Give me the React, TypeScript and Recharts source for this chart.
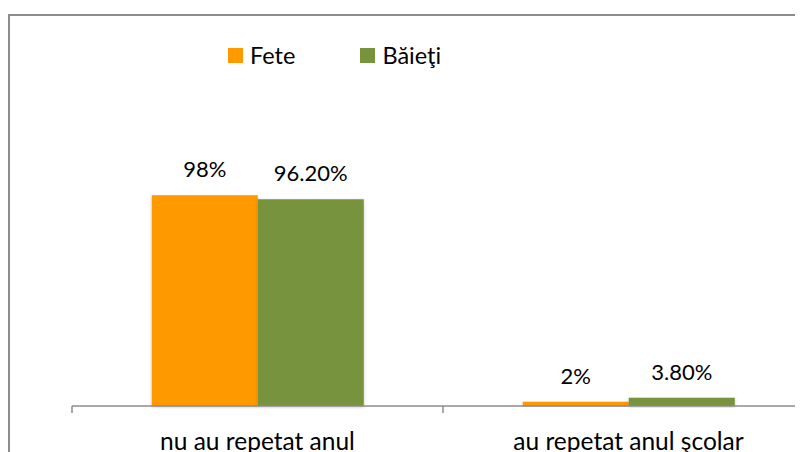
import { BarChart, Bar, XAxis, YAxis, Legend, LabelList } from 'recharts';

const categories = ['nu au repetat anul', 'au repetat anul şcolar'];
const seriesNames = ['Fete', 'Băieţi'];
const fete = [98, 2];
const baieti = [96.2, 3.8];

const data = categories.map((name, i) => ({ name, Fete: fete[i], 'Băieţi': baieti[i] }));

const FONT = "Lato, 'Open Sans', sans-serif";

const fmt = (v: number) => (Number.isInteger(v) ? `${v}%` : `${v.toFixed(2)}%`);

function CategoryTick(props: any) {
  const { x, y, payload } = props;
  const edge = x - (payload.offset || 0);
  return (
    <g>
      <line x1={edge} y1={y - 8} x2={edge} y2={y - 1} stroke="#8c8c8c" strokeWidth={1.5} />
      <text x={x} y={y + 36} textAnchor="middle" fill="#000" fontSize={24.5} fontFamily={FONT}>
        {payload.value}
      </text>
    </g>
  );
}

function LegendBox(props: any) {
  const items = [...(props.payload || [])].sort(
    (a: any, b: any) => seriesNames.indexOf(a.value) - seriesNames.indexOf(b.value),
  );
  return (
    <div style={{ display: 'flex', alignItems: 'center', fontFamily: FONT, fontSize: 23.5, color: '#000' }}>
      {items.map((it: any, i: number) => (
        <div key={it.value} style={{ display: 'flex', alignItems: 'center', marginRight: i === 0 ? 65 : 0 }}>
          <span style={{ width: 15, height: 15, background: it.color, display: 'inline-block', marginRight: 7 }} />
          <span style={{ lineHeight: '15px' }}>{it.value}</span>
        </div>
      ))}
    </div>
  );
}

export default function App() {
  return (
    <div style={{ width: 795, height: 438, overflow: 'hidden', marginTop: 6 }}>
      <div style={{ width: 830, height: 480, border: '2px solid #8c8c8c', boxSizing: 'border-box' }}>
        <BarChart
          width={826}
          height={460}
          data={data}
          margin={{ top: 175, right: 22, bottom: 20, left: 62 }}
          barCategoryGap="21.5%"
          barGap={0}
        >
          <defs>
            <filter id="barShadow" x="-10%" y="-10%" width="120%" height="130%">
              <feDropShadow dx="0" dy="1" stdDeviation="1.5" floodColor="#000" floodOpacity="0.25" />
            </filter>
          </defs>
          <XAxis
            dataKey="name"
            height={50}
            interval={0}
            tickLine={false}
            tickSize={0}
            tickMargin={8}
            axisLine={{ stroke: '#8c8c8c', strokeWidth: 1.5 }}
            tick={<CategoryTick />}
          />
          <YAxis hide domain={[0, 100]} />
          <Legend
            verticalAlign="middle"
            align="center"
            content={<LegendBox />}
            wrapperStyle={{ top: 32, left: 218, width: 'auto' }}
          />
          <Bar dataKey="Fete" fill="#ff9900" isAnimationActive={false} filter="url(#barShadow)">
            <LabelList dataKey="Fete" position="top" offset={18} formatter={fmt} fill="#000" fontSize={22} fontFamily={FONT} />
          </Bar>
          <Bar dataKey="Băieţi" fill="#77933c" isAnimationActive={false} filter="url(#barShadow)">
            <LabelList dataKey="Băieţi" position="top" offset={18} formatter={fmt} fill="#000" fontSize={22} fontFamily={FONT} />
          </Bar>
        </BarChart>
      </div>
    </div>
  );
}
